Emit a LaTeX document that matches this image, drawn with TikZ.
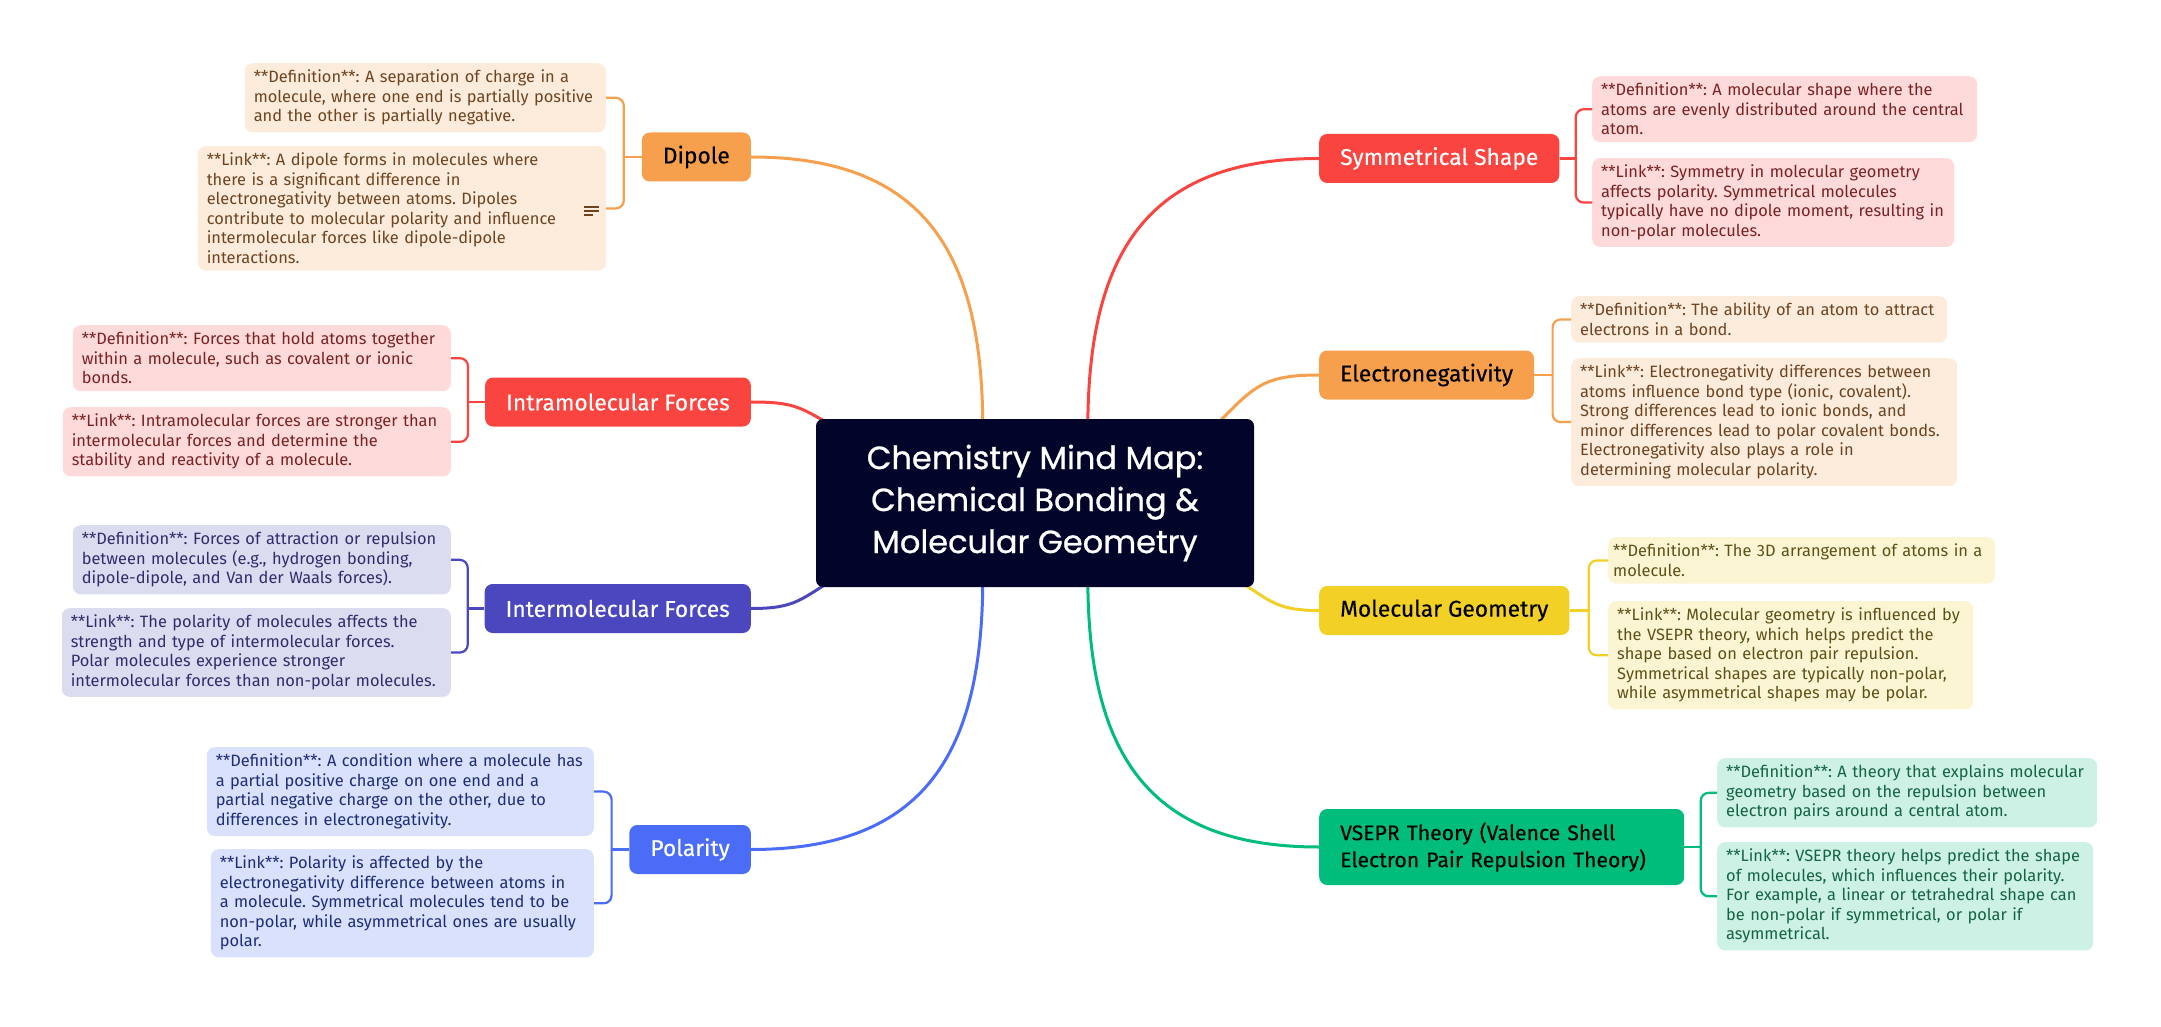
\documentclass[tikz,border=0pt]{standalone}
\usepackage{fontspec}
\setmainfont{Fira Sans}
\newfontfamily\titlefont{Poppins}[UprightFeatures={FakeBold=0.8}]
\newfontfamily\branchfont{Fira Sans}[UprightFeatures={FakeBold=0.2}]
\usepackage{tikz}
\usetikzlibrary{positioning,calc,backgrounds}
\frenchspacing
\definecolor{rootC}{HTML}{03042A}
\definecolor{orangeM}{HTML}{F6A04D}
\definecolor{orangeL}{HTML}{FDEBDC}
\definecolor{orangeT}{HTML}{6E4420}
\definecolor{redM}{HTML}{F9443F}
\definecolor{redL}{HTML}{FFDADA}
\definecolor{redT}{HTML}{7A2222}
\definecolor{purpM}{HTML}{4B48BF}
\definecolor{purpL}{HTML}{DCDCF1}
\definecolor{purpT}{HTML}{2F2D6B}
\definecolor{blueM}{HTML}{4A6CF7}
\definecolor{blueL}{HTML}{DAE1FC}
\definecolor{blueT}{HTML}{1F2D78}
\definecolor{yelM}{HTML}{F2D026}
\definecolor{yelL}{HTML}{FCF5D3}
\definecolor{yelT}{HTML}{5C5218}
\definecolor{greenM}{HTML}{00BD7B}
\definecolor{greenL}{HTML}{CDF1E4}
\definecolor{greenT}{HTML}{146446}

\begin{document}
\begin{tikzpicture}[x=1pt, y=-1pt,
    rootbox/.style={fill=rootC, text=white, rounded corners=7pt, align=center,
      minimum width=438pt, minimum height=168pt,
      font=\titlefont\fontsize{32}{42}\selectfont},
    branch/.style={rounded corners=8pt, minimum height=49pt, inner xsep=21pt,
      font=\branchfont\fontsize{22.8}{27}\selectfont},
    leaf/.style={rounded corners=8pt, inner xsep=9pt, inner ysep=7pt, align=left,
      font=\fontsize{16.4}{19.5}\selectfont},
    lleaf/.style={leaf, anchor=north east},
    rleaf/.style={leaf, anchor=north west},
    conn/.style={line width=3pt},
    bracket/.style={line width=2.2pt, rounded corners=8pt}]
  \useasboundingbox (0,0) rectangle (2161,1027);

  % --- central topic ---
  \node[rootbox] (root) at (1035,503)
    {Chemistry Mind Map:\\Chemical Bonding \&\\Molecular Geometry};

  % --- left branches ---
  \node[branch, fill=orangeM, anchor=east] (dip)   at (751,157)   {Dipole};
  \node[branch, fill=redM, text=white, anchor=east]  (intra) at (751,402)   {Intramolecular Forces};
  \node[branch, fill=purpM, text=white, anchor=east] (inter) at (751,608.5) {Intermolecular Forces};
  \node[branch, fill=blueM, text=white, anchor=east] (pol)   at (751,849.5) {Polarity};

  % --- right branches ---
  \node[branch, fill=redM, text=white, anchor=west] (sym) at (1319,158.5) {Symmetrical Shape};
  \node[branch, fill=orangeM, anchor=west] (en)  at (1319,375)   {Electronegativity};
  \node[branch, fill=yelM, anchor=west]    (geo) at (1319,610.5) {Molecular Geometry};
  \node[branch, fill=greenM, anchor=west, minimum height=76pt, text width=323pt, align=left,
        font=\branchfont\fontsize{21.2}{27}\selectfont] (vs) at (1319,847)
    {VSEPR Theory (Valence Shell\\Electron Pair Repulsion Theory)};

  % --- leaves, left side ---
  \node[lleaf, fill=orangeL, text=orangeT, text width=343pt] (dip-def) at (606,63)
    {**Definition**: A separation of charge in a\\
     molecule, where one end is partially positive\\
     and the other is partially negative.};
  \node[lleaf, fill=orangeL, text=orangeT, text width=390pt] (dip-link) at (606,146)
    {**Link**: A dipole forms in molecules where\\
     there is a significant difference in\\
     electronegativity between atoms. Dipoles\\
     contribute to molecular polarity and influence\\
     intermolecular forces like dipole-dipole\\
     interactions.};
  \node[lleaf, fill=redL, text=redT, text width=360pt] (intra-def) at (451,325)
    {**Definition**: Forces that hold atoms together\\
     within a molecule, such as covalent or ionic\\
     bonds.};
  \node[lleaf, fill=redL, text=redT, text width=370pt] (intra-link) at (451,407)
    {**Link**: Intramolecular forces are stronger than\\
     intermolecular forces and determine the\\
     stability and reactivity of a molecule.};
  \node[lleaf, fill=purpL, text=purpT, text width=360pt] (inter-def) at (451,525)
    {**Definition**: Forces of attraction or repulsion\\
     between molecules (e.g., hydrogen bonding,\\
     dipole-dipole, and Van der Waals forces).};
  \node[lleaf, fill=purpL, text=purpT, text width=371pt] (inter-link) at (451,608)
    {**Link**: The polarity of molecules affects the\\
     strength and type of intermolecular forces.\\
     Polar molecules experience stronger\\
     intermolecular forces than non-polar molecules.};
  \node[lleaf, fill=blueL, text=blueT, text width=369pt] (pol-def) at (594,747)
    {**Definition**: A condition where a molecule has\\
     a partial positive charge on one end and a\\
     partial negative charge on the other, due to\\
     differences in electronegativity.};
  \node[lleaf, fill=blueL, text=blueT, text width=365pt] (pol-link) at (594,849)
    {**Link**: Polarity is affected by the\\
     electronegativity difference between atoms in\\
     a molecule. Symmetrical molecules tend to be\\
     non-polar, while asymmetrical ones are usually\\
     polar.};

  % --- leaves, right side ---
  \node[rleaf, fill=redL, text=redT, text width=367pt] (sym-def) at (1592,76)
    {**Definition**: A molecular shape where the\\
     atoms are evenly distributed around the central\\
     atom.};
  \node[rleaf, fill=redL, text=redT, text width=344pt] (sym-link) at (1592,158)
    {**Link**: Symmetry in molecular geometry\\
     affects polarity. Symmetrical molecules\\
     typically have no dipole moment, resulting in\\
     non-polar molecules.};
  \node[rleaf, fill=orangeL, text=orangeT, text width=358pt] (en-def) at (1571,296)
    {**Definition**: The ability of an atom to attract\\
     electrons in a bond.};
  \node[rleaf, fill=orangeL, text=orangeT, text width=368pt] (en-link) at (1571,358)
    {**Link**: Electronegativity differences between\\
     atoms influence bond type (ionic, covalent).\\
     Strong differences lead to ionic bonds, and\\
     minor differences lead to polar covalent bonds.\\
     Electronegativity also plays a role in\\
     determining molecular polarity.};
  \node[rleaf, fill=yelL, text=yelT, text width=377pt, inner xsep=5pt] (geo-def) at (1608,537)
    {**Definition**: The 3D arrangement of atoms in a\\
     molecule.};
  \node[rleaf, fill=yelL, text=yelT, text width=347pt] (geo-link) at (1608,601)
    {**Link**: Molecular geometry is influenced by\\
     the VSEPR theory, which helps predict the\\
     shape based on electron pair repulsion.\\
     Symmetrical shapes are typically non-polar,\\
     while asymmetrical shapes may be polar.};
  \node[rleaf, fill=greenL, text=greenT, text width=362pt] (vs-def) at (1717,758)
    {**Definition**: A theory that explains molecular\\
     geometry based on the repulsion between\\
     electron pairs around a central atom.};
  \node[rleaf, fill=greenL, text=greenT, text width=358pt] (vs-link) at (1717,842)
    {**Link**: VSEPR theory helps predict the shape\\
     of molecules, which influences their polarity.\\
     For example, a linear or tetrahedral shape can\\
     be non-polar if symmetrical, or polar if\\
     asymmetrical.};

  % note icon in the dipole link
  \draw[orangeT, line width=1.2pt] (584,207) -- (599,207) (584,211) -- (599,211) (584,215) -- (593,215);

  % --- brackets ---
  \foreach \n/\c in {dip/orangeM, intra/redM, inter/purpM, pol/blueM}{
    \coordinate (\n-br) at ($(\n.west)!.5!(\n-def.east)$);
    \draw[bracket, \c] (\n-def.east) -| (\n-br) |- (\n-link.east);
    \draw[bracket, \c] (\n.west) -- (\n.west -| \n-br);
  }
  \foreach \n/\c in {sym/redM, en/orangeM, geo/yelM, vs/greenM}{
    \coordinate (\n-br) at ($(\n.east)!.5!(\n-def.west)$);
    \draw[bracket, \c] (\n-def.west) -| (\n-br) |- (\n-link.west);
    \draw[bracket, \c] (\n.east) -- (\n.east -| \n-br);
  }

  % --- curved links to the centre ---
  \begin{scope}[on background layer, looseness=1.25]
    \draw[conn, orangeM] (dip.east) to[out=0, in=90] ([xshift=167pt, yshift=-10pt]root.north west);
    \draw[conn, redM] (sym.west) to[out=180, in=90] ([xshift=272pt, yshift=-10pt]root.north west);
    \draw[conn, redM] (intra.east) to[out=0, in=150] ([shift={(25pt,-12pt)}]root.north west);
    \draw[conn, orangeM] (en.west) to[out=180, in=45] ([shift={(-42pt,-10pt)}]root.north east);
    \draw[conn, purpM] (inter.east) to[out=0, in=-150] ([shift={(25pt,12pt)}]root.south west);
    \draw[conn, yelM] (geo.west) to[out=180, in=-30] ([shift={(-25pt,12pt)}]root.south east);
    \draw[conn, blueM] (pol.east) to[out=0, in=-90] ([xshift=167pt, yshift=10pt]root.south west);
    \draw[conn, greenM] (vs.west) to[out=180, in=-90] ([xshift=272pt, yshift=10pt]root.south west);
  \end{scope}
\end{tikzpicture}
\end{document}
